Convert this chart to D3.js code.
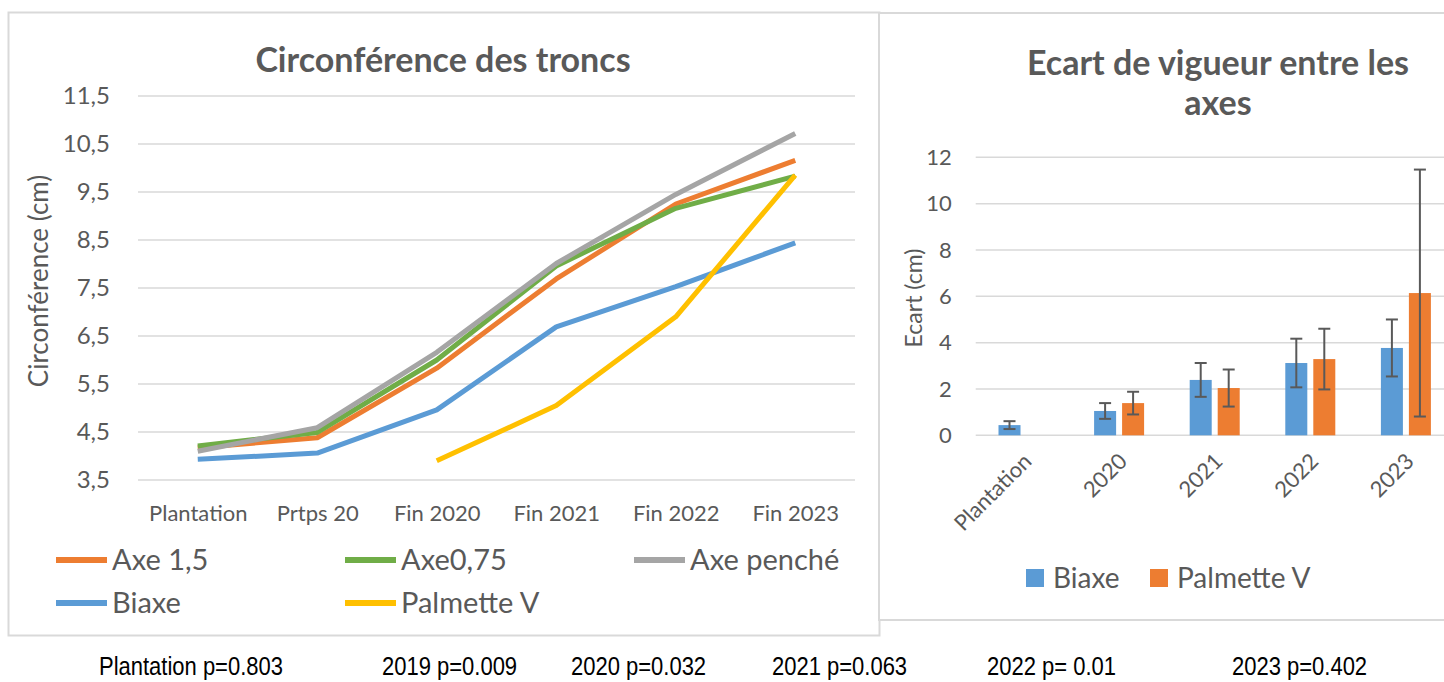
<!DOCTYPE html>
<meta charset="utf-8">
<style>
    body { margin: 0; background: #fff; }
    svg { display: block; }
    text { font-family: Lato, "Open Sans", sans-serif; fill: #595959; }
</style>

<body>
    <script type="text/javascript" src="https://cdn.jsdelivr.net/npm/d3@7"></script>
    <script type="text/javascript">
        /* Data: circumference of trunks */
        var lineCategories = ["Plantation", "Prtps 20", "Fin 2020", "Fin 2021", "Fin 2022", "Fin 2023"];
        var axe15 = [4.17, 4.38, 5.83, 7.69, 9.25, 10.16];
        var axe075 = [4.21, 4.49, 6.00, 7.96, 9.16, 9.83];
        var axePenche = [4.10, 4.59, 6.16, 8.01, 9.45, 10.72];
        var biaxeCirc = [3.93, 4.06, 4.96, 6.69, 7.53, 8.44];
        var palmetteCirc = [null, null, 3.90, 5.05, 6.90, 9.85];
        var circTicks = [3.5, 4.5, 5.5, 6.5, 7.5, 8.5, 9.5, 10.5, 11.5];

        /* Data: vigour gap between axes */
        var ecartCategories = ["Plantation", "2020", "2021", "2022", "2023"];
        var biaxeEcart = [0.44, 1.05, 2.39, 3.12, 3.77];
        var biaxeErr = [0.17, 0.34, 0.73, 1.05, 1.23];
        var palmetteEcart = [null, 1.39, 2.04, 3.29, 6.14];
        var palmetteErr = [null, 0.49, 0.80, 1.31, 5.33];
        var ecartTicks = [0, 2, 4, 6, 8, 10, 12];

        /* p-values under the charts */
        var pLabels = ["Plantation p=0.803", "2019 p=0.009", "2020 p=0.032", "2021 p=0.063", "2022 p= 0.01", "2023 p=0.402"];
        var pLabelX = [99, 382, 571, 772, 987, 1232];

        var w = 1444;
        var h = 682;

        var svg = d3.select("body")
            .append("svg")
            .attr("width", w)
            .attr("height", h);

        /* Panel frames */
        svg.append("rect")
            .attr("x", 8.5).attr("y", 12.5)
            .attr("width", 871).attr("height", 623)
            .attr("fill", "#fff")
            .attr("stroke", "#d9d9d9")
            .attr("stroke-width", 2);

        svg.append("rect")
            .attr("x", 879).attr("y", 13)
            .attr("width", 600).attr("height", 607)
            .attr("fill", "#fff")
            .attr("stroke", "#d9d9d9")
            .attr("stroke-width", 2);

        /* ---------- Left chart: line chart ---------- */
        var lineSeries = [
            { name: "Axe 1,5", values: axe15, color: "#ed7d31" },
            { name: "Axe0,75", values: axe075, color: "#70ad47" },
            { name: "Axe penché", values: axePenche, color: "#a5a5a5" },
            { name: "Biaxe", values: biaxeCirc, color: "#5b9bd5" },
            { name: "Palmette V", values: palmetteCirc, color: "#ffc000" }
        ];

        var xLeft = d3.scalePoint()
            .domain(lineCategories)
            .range([138, 855])
            .padding(0.5);

        var yLeft = d3.scaleLinear()
            .domain([3.5, 11.5])
            .range([480, 96]);

        var left = svg.append("g");

        // gridlines
        left.selectAll("line.grid")
            .data(circTicks)
            .enter()
            .append("line")
            .attr("class", "grid")
            .attr("x1", 138).attr("x2", 855)
            .attr("y1", function (d) { return yLeft(d); })
            .attr("y2", function (d) { return yLeft(d); })
            .attr("stroke", "#d9d9d9")
            .attr("stroke-width", 1.5);

        var commaFormat = function (d) {
            return d3.format(".1f")(d).replace(".", ",");
        };

        var yAxisLeft = left.append("g")
            .attr("transform", "translate(138,0)")
            .call(d3.axisLeft(yLeft).tickValues(circTicks).tickFormat(commaFormat).tickSize(0).tickPadding(28));
        yAxisLeft.select(".domain").remove();
        yAxisLeft.selectAll("text")
            .attr("font-family", "Lato")
            .attr("font-size", 24)
            .attr("fill", "#595959");

        var xAxisLeft = left.append("g")
            .attr("transform", "translate(0,480)")
            .call(d3.axisBottom(xLeft).tickSize(0).tickPadding(25));
        xAxisLeft.select(".domain").remove();
        xAxisLeft.selectAll("text")
            .attr("font-family", "Lato")
            .attr("font-size", 22)
            .attr("fill", "#595959");

        var lineGenerator = d3.line()
            .defined(function (d) { return d != null; })
            .x(function (d, i) { return xLeft(lineCategories[i]); })
            .y(function (d) { return yLeft(d); });

        left.selectAll("path.series")
            .data(lineSeries)
            .enter()
            .append("path")
            .attr("class", "series")
            .attr("d", function (d) { return lineGenerator(d.values); })
            .attr("fill", "none")
            .attr("stroke", function (d) { return d.color; })
            .attr("stroke-width", 5)
            .attr("stroke-linejoin", "round");

        // titles
        left.append("text")
            .attr("x", 443).attr("y", 72)
            .attr("text-anchor", "middle")
            .attr("font-size", 34)
            .attr("font-weight", "bold")
            .text("Circonférence des troncs");

        left.append("text")
            .attr("transform", "translate(48,281) rotate(-90)")
            .attr("text-anchor", "middle")
            .attr("font-size", 26)
            .text("Circonférence (cm)");

        // legend (3 per row)
        var legLeftX = [56, 345, 634];
        var legLeftY = [560, 603];
        var legItem = left.selectAll("g.leg")
            .data(lineSeries)
            .enter()
            .append("g")
            .attr("class", "leg")
            .attr("transform", function (d, i) {
                return "translate(" + legLeftX[i % 3] + "," + legLeftY[Math.floor(i / 3)] + ")";
            });
        legItem.append("line")
            .attr("x1", 0).attr("x2", 51)
            .attr("stroke", function (d) { return d.color; })
            .attr("stroke-width", 6);
        legItem.append("text")
            .attr("x", 56)
            .attr("dy", "0.35em")
            .attr("font-size", 29)
            .text(function (d) { return d.name; });

        /* ---------- Right chart: bars with error bars ---------- */
        var barSeries = [
            { name: "Biaxe", values: biaxeEcart, err: biaxeErr, color: "#5b9bd5" },
            { name: "Palmette V", values: palmetteEcart, err: palmetteErr, color: "#ed7d31" }
        ];

        var step = 95.6;
        var x0 = d3.scaleBand()
            .domain(ecartCategories)
            .range([975.7, 975.7 + step * ecartCategories.length])
            .paddingInner(0.477)
            .paddingOuter(0.2385);

        var x1 = d3.scaleBand()
            .domain(barSeries.map(function (d) { return d.name; }))
            .range([0, x0.bandwidth()])
            .paddingInner(0.214);

        var yRight = d3.scaleLinear()
            .domain([0, 12])
            .range([435.3, 157.3]);

        var right = svg.append("g");

        right.selectAll("line.grid")
            .data(ecartTicks)
            .enter()
            .append("line")
            .attr("class", "grid")
            .attr("x1", 975.7).attr("x2", w)
            .attr("y1", function (d) { return yRight(d); })
            .attr("y2", function (d) { return yRight(d); })
            .attr("stroke", "#d9d9d9")
            .attr("stroke-width", 1.5);

        var yAxisRight = right.append("g")
            .attr("transform", "translate(975.7,0)")
            .call(d3.axisLeft(yRight).tickValues(ecartTicks).tickSize(0).tickPadding(24));
        yAxisRight.select(".domain").remove();
        yAxisRight.selectAll("text")
            .attr("font-family", "Lato")
            .attr("font-size", 22)
            .attr("fill", "#595959");

        var xAxisRight = right.append("g")
            .attr("transform", "translate(0,435.3)")
            .call(d3.axisBottom(x0).tickSize(0));
        xAxisRight.select(".domain").remove();
        xAxisRight.selectAll("text")
            .attr("font-family", "Lato")
            .attr("font-size", 22)
            .attr("fill", "#595959")
            .attr("text-anchor", "end")
            .attr("y", 0)
            .attr("dy", "0.35em")
            .attr("transform", "translate(4,22) rotate(-45)");

        // bars
        var groups = right.selectAll("g.bars")
            .data(barSeries)
            .enter()
            .append("g")
            .attr("class", "bars");

        var barData = function (s) {
            return s.values.map(function (v, i) {
                return { cat: ecartCategories[i], v: v, e: s.err[i], name: s.name };
            }).filter(function (d) { return d.v != null; });
        };

        groups.selectAll("rect")
            .data(barData)
            .enter()
            .append("rect")
            .attr("x", function (d) { return x0(d.cat) + x1(d.name); })
            .attr("y", function (d) { return yRight(d.v); })
            .attr("width", x1.bandwidth())
            .attr("height", function (d) { return yRight(0) - yRight(d.v); })
            .attr("fill", function (d, i, n) { return d3.select(n[i].parentNode).datum().color; });

        // error bars
        var errG = groups.selectAll("g.err")
            .data(barData)
            .enter()
            .append("g")
            .attr("class", "err")
            .attr("stroke", "#595959")
            .attr("stroke-width", 2);
        var cx = function (d) { return x0(d.cat) + x1(d.name) + x1.bandwidth() / 2; };
        errG.append("line")
            .attr("x1", cx).attr("x2", cx)
            .attr("y1", function (d) { return yRight(d.v + d.e); })
            .attr("y2", function (d) { return yRight(d.v - d.e); });
        errG.append("line")
            .attr("x1", function (d) { return cx(d) - 6; })
            .attr("x2", function (d) { return cx(d) + 6; })
            .attr("y1", function (d) { return yRight(d.v + d.e); })
            .attr("y2", function (d) { return yRight(d.v + d.e); });
        errG.append("line")
            .attr("x1", function (d) { return cx(d) - 6; })
            .attr("x2", function (d) { return cx(d) + 6; })
            .attr("y1", function (d) { return yRight(d.v - d.e); })
            .attr("y2", function (d) { return yRight(d.v - d.e); });

        // titles
        var rTitle = right.append("text")
            .attr("text-anchor", "middle")
            .attr("font-size", 34)
            .attr("font-weight", "bold");
        rTitle.append("tspan").attr("x", 1218).attr("y", 75).text("Ecart de vigueur entre les");
        rTitle.append("tspan").attr("x", 1218).attr("y", 115).text("axes");

        right.append("text")
            .attr("transform", "translate(922,298) rotate(-90)")
            .attr("text-anchor", "middle")
            .attr("font-size", 23)
            .text("Ecart (cm)");

        // legend
        var legRightX = [1026, 1150];
        var legR = right.selectAll("g.legr")
            .data(barSeries)
            .enter()
            .append("g")
            .attr("class", "legr")
            .attr("transform", function (d, i) { return "translate(" + legRightX[i] + ",578)"; });
        legR.append("rect")
            .attr("x", 0).attr("y", -9)
            .attr("width", 18).attr("height", 18)
            .attr("fill", function (d) { return d.color; });
        legR.append("text")
            .attr("x", 27)
            .attr("dy", "0.35em")
            .attr("font-size", 28)
            .text(function (d) { return d.name; });

        /* ---------- p-values line (condensed Arial-like text) ---------- */
        svg.selectAll("text.pval")
            .data(pLabels)
            .enter()
            .append("text")
            .attr("class", "pval")
            .attr("transform", function (d, i) { return "translate(" + pLabelX[i] + ",675) scale(0.88,1)"; })
            .style("font-family", "'Liberation Sans', Arial, sans-serif")
            .style("fill", "#000")
            .attr("font-size", 25)
            .text(function (d) { return d; });
    </script>
</body>
